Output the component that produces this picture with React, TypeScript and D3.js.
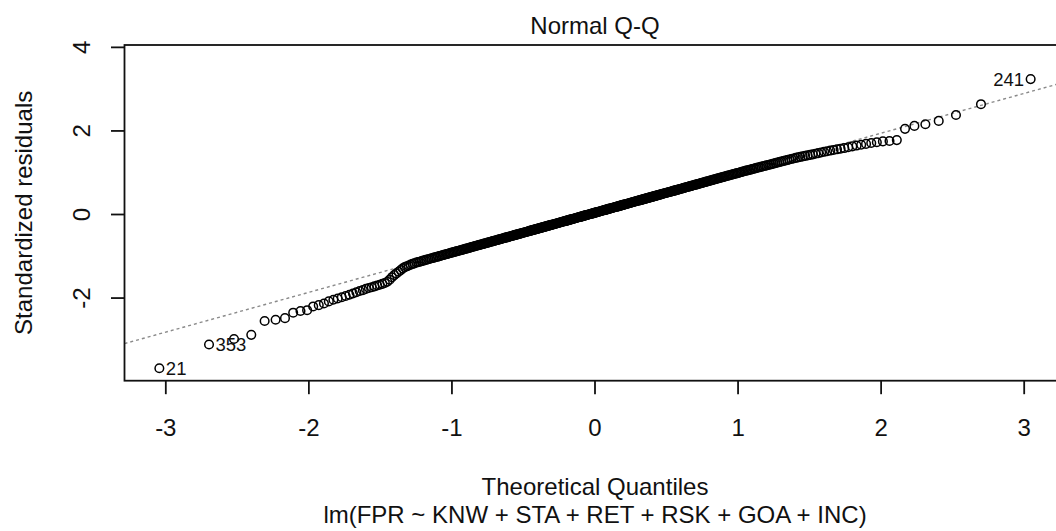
import React from "react";
import * as d3 from "d3";

// Sorted standardized residuals (ascending order)
const residuals: number[] = [
  -3.68, -3.11, -2.98, -2.88, -2.55, -2.52, -2.48, -2.35, -2.31, -2.29,
  -2.20, -2.17, -2.13, -2.08, -2.04, -2.01, -1.98, -1.95, -1.92, -1.89,
  -1.86, -1.83, -1.81, -1.78, -1.76, -1.74, -1.72, -1.70, -1.68, -1.66,
  -1.64, -1.61, -1.56, -1.50, -1.45, -1.41, -1.37, -1.33, -1.29, -1.26,
  -1.24, -1.22, -1.20, -1.18, -1.17, -1.15, -1.14, -1.13, -1.115, -1.104,
  -1.092, -1.081, -1.070, -1.059, -1.048, -1.037, -1.027, -1.017, -1.007, -0.997,
  -0.986, -0.976, -0.966, -0.957, -0.947, -0.938, -0.928, -0.919, -0.910, -0.901,
  -0.892, -0.883, -0.874, -0.866, -0.857, -0.848, -0.840, -0.831, -0.823, -0.815,
  -0.806, -0.798, -0.790, -0.781, -0.773, -0.765, -0.757, -0.749, -0.742, -0.734,
  -0.726, -0.719, -0.711, -0.703, -0.696, -0.688, -0.681, -0.673, -0.666, -0.659,
  -0.652, -0.644, -0.637, -0.630, -0.623, -0.616, -0.609, -0.602, -0.595, -0.588,
  -0.581, -0.574, -0.567, -0.560, -0.554, -0.547, -0.540, -0.534, -0.527, -0.520,
  -0.513, -0.507, -0.500, -0.494, -0.487, -0.481, -0.475, -0.468, -0.462, -0.456,
  -0.449, -0.443, -0.436, -0.430, -0.424, -0.418, -0.412, -0.406, -0.399, -0.393,
  -0.387, -0.380, -0.374, -0.368, -0.362, -0.356, -0.350, -0.344, -0.338, -0.332,
  -0.326, -0.320, -0.314, -0.308, -0.302, -0.296, -0.290, -0.284, -0.279, -0.273,
  -0.267, -0.261, -0.255, -0.249, -0.244, -0.238, -0.232, -0.226, -0.220, -0.215,
  -0.209, -0.203, -0.197, -0.191, -0.186, -0.180, -0.174, -0.168, -0.163, -0.157,
  -0.152, -0.146, -0.140, -0.134, -0.128, -0.123, -0.117, -0.112, -0.106, -0.100,
  -0.095, -0.089, -0.083, -0.078, -0.072, -0.067, -0.061, -0.056, -0.050, -0.044,
  -0.039, -0.033, -0.028, -0.022, -0.016, -0.011, -0.005, 0.000, 0.006, 0.011,
  0.017, 0.022, 0.028, 0.034, 0.039, 0.045, 0.050, 0.056, 0.061, 0.067,
  0.073, 0.078, 0.084, 0.089, 0.095, 0.100, 0.106, 0.112, 0.117, 0.123,
  0.128, 0.134, 0.140, 0.145, 0.151, 0.156, 0.162, 0.168, 0.173, 0.179,
  0.184, 0.190, 0.195, 0.201, 0.207, 0.212, 0.218, 0.224, 0.230, 0.236,
  0.241, 0.247, 0.252, 0.258, 0.264, 0.270, 0.276, 0.281, 0.287, 0.293,
  0.299, 0.305, 0.310, 0.316, 0.322, 0.328, 0.334, 0.339, 0.345, 0.351,
  0.357, 0.362, 0.368, 0.374, 0.380, 0.386, 0.392, 0.398, 0.404, 0.410,
  0.416, 0.422, 0.428, 0.434, 0.440, 0.446, 0.452, 0.458, 0.465, 0.471,
  0.477, 0.483, 0.490, 0.496, 0.502, 0.508, 0.514, 0.520, 0.527, 0.533,
  0.540, 0.546, 0.552, 0.559, 0.565, 0.571, 0.578, 0.584, 0.591, 0.597,
  0.604, 0.611, 0.618, 0.624, 0.631, 0.638, 0.645, 0.651, 0.658, 0.665,
  0.672, 0.679, 0.686, 0.693, 0.700, 0.707, 0.714, 0.721, 0.728, 0.735,
  0.743, 0.750, 0.757, 0.765, 0.772, 0.780, 0.787, 0.795, 0.803, 0.810,
  0.818, 0.826, 0.834, 0.842, 0.850, 0.858, 0.866, 0.874, 0.882, 0.890,
  0.899, 0.907, 0.915, 0.924, 0.932, 0.941, 0.950, 0.958, 0.967, 0.976,
  0.985, 0.99, 1.00, 1.01, 1.02, 1.03, 1.04, 1.05, 1.055, 1.065,
  1.075, 1.085, 1.095, 1.105, 1.115, 1.125, 1.135, 1.145, 1.155, 1.165,
  1.175, 1.185, 1.195, 1.207, 1.219, 1.231, 1.243, 1.255, 1.267, 1.279,
  1.291, 1.303, 1.316, 1.329, 1.342, 1.355, 1.367, 1.379, 1.391, 1.403,
  1.415, 1.427, 1.44, 1.455, 1.47, 1.485, 1.50, 1.515, 1.53, 1.545,
  1.56, 1.575, 1.59, 1.61, 1.63, 1.65, 1.67, 1.69, 1.71, 1.73,
  1.75, 1.76, 1.78, 2.05, 2.12, 2.16, 2.24, 2.38, 2.64, 3.24,
];

// Identified observations (rank in sorted order -> observation id)
const labelRanks: number[] = [1, 2, 430];
const labelIds: string[] = ["21", "353", "241"];

const xTicks: number[] = [-3, -2, -1, 0, 1, 2, 3];
const yTicks: number[] = [-2, 0, 2, 4];

const titleText = "Normal Q-Q";
const xLabel = "Theoretical Quantiles";
const yLabel = "Standardized residuals";
const subCaption = "lm(FPR ~ KNW + STA + RET + RSK + GOA + INC)";

// Inverse standard normal CDF (Acklam)
function qnorm(p: number): number {
  const a = [-3.969683028665376e1, 2.209460984245205e2, -2.759285104469687e2, 1.38357751867269e2, -3.066479806614716e1, 2.506628277459239];
  const b = [-5.447609879822406e1, 1.615858368580409e2, -1.556989798598866e2, 6.680131188771972e1, -1.328068155288572e1];
  const c = [-7.784894002430293e-3, -3.223964580411365e-1, -2.400758277161838, -2.549732539343734, 4.374664141464968, 2.938163982698783];
  const d = [7.784695709041462e-3, 3.224671290700398e-1, 2.445134137142996, 3.754408661907416];
  const plow = 0.02425;
  if (p < plow) {
    const q = Math.sqrt(-2 * Math.log(p));
    return (((((c[0] * q + c[1]) * q + c[2]) * q + c[3]) * q + c[4]) * q + c[5]) /
      ((((d[0] * q + d[1]) * q + d[2]) * q + d[3]) * q + 1);
  }
  if (p <= 1 - plow) {
    const q = p - 0.5;
    const r = q * q;
    return ((((((a[0] * r + a[1]) * r + a[2]) * r + a[3]) * r + a[4]) * r + a[5]) * q) /
      (((((b[0] * r + b[1]) * r + b[2]) * r + b[3]) * r + b[4]) * r + 1);
  }
  const q = Math.sqrt(-2 * Math.log(1 - p));
  return -(((((c[0] * q + c[1]) * q + c[2]) * q + c[3]) * q + c[4]) * q + c[5]) /
    ((((d[0] * q + d[1]) * q + d[2]) * q + d[3]) * q + 1);
}

const W = 1056;
const H = 531;
const FONT = "'Liberation Sans', Arial, Helvetica, sans-serif";
const FS = 24;

export default function App() {
  const n = residuals.length;
  const theo = residuals.map((_, i) => qnorm((i + 0.5) / n));

  const plotLeft = 124.5;
  const plotRight = 1065.5;
  const plotTop = 45;
  const plotBottom = 380.7;

  const [xmin, xmax] = d3.extent(theo) as [number, number];
  const xpad = (xmax - xmin) * 0.04;
  const x = d3.scaleLinear().domain([xmin - xpad, xmax + xpad]).range([plotLeft, plotRight]);

  const rmin = d3.min(residuals) as number;
  let rmax = d3.max(residuals) as number;
  rmax = rmax + (rmax - rmin) * 0.075;
  const ypad = (rmax - rmin) * 0.04;
  const y = d3.scaleLinear().domain([rmin - ypad, rmax + ypad]).range([plotBottom, plotTop]);

  // qqline through the quartiles
  const q1 = d3.quantile(residuals, 0.25) as number;
  const q3 = d3.quantile(residuals, 0.75) as number;
  const z1 = qnorm(0.25);
  const z3 = qnorm(0.75);
  const slope = (q3 - q1) / (z3 - z1);
  const intercept = q1 - slope * z1;
  const [dx0, dx1] = x.domain();

  const tickLen = 13.5;
  const axisColor = "#111";

  return (
    <svg
      width={W}
      height={H}
      style={{ position: "absolute", left: 0, top: 0, display: "block", background: "#fff" }}
      fontFamily={FONT}
    >
      <defs>
        <clipPath id="plotclip">
          <rect x={plotLeft} y={plotTop} width={plotRight - plotLeft} height={plotBottom - plotTop} />
        </clipPath>
      </defs>

      {/* reference line */}
      <line
        x1={x(dx0)}
        y1={y(intercept + slope * dx0)}
        x2={x(dx1)}
        y2={y(intercept + slope * dx1)}
        stroke="#8a8a8a"
        strokeWidth={1.4}
        strokeDasharray="3 3"
        clipPath="url(#plotclip)"
      />

      {/* points */}
      <g fill="none" stroke="#000" strokeWidth={1.5}>
        {residuals.map((r, i) => (
          <circle key={i} cx={x(theo[i])} cy={y(r)} r={4.3} />
        ))}
      </g>

      {/* point labels */}
      {labelRanks.map((rank, k) => {
        const i = rank - 1;
        const px = x(theo[i]);
        const py = y(residuals[i]);
        const right = theo[i] < 0;
        return (
          <text
            key={k}
            x={right ? px + 6.5 : px - 6.5}
            y={py + 6.8}
            textAnchor={right ? "start" : "end"}
            fontSize={18.5}
            fill="#111"
          >
            {labelIds[k]}
          </text>
        );
      })}

      {/* box */}
      <rect
        x={plotLeft}
        y={plotTop}
        width={plotRight - plotLeft}
        height={plotBottom - plotTop}
        fill="none"
        stroke={axisColor}
        strokeWidth={1.8}
      />

      {/* x axis */}
      {xTicks.map((t) => (
        <g key={"xt" + t}>
          <line x1={x(t)} x2={x(t)} y1={plotBottom} y2={plotBottom + tickLen} stroke={axisColor} strokeWidth={1.8} />
          <text x={x(t)} y={435.5} textAnchor="middle" fontSize={FS} fill="#111">
            {String(t)}
          </text>
        </g>
      ))}

      {/* y axis */}
      {yTicks.map((t) => (
        <g key={"yt" + t}>
          <line x1={plotLeft - tickLen} x2={plotLeft} y1={y(t)} y2={y(t)} stroke={axisColor} strokeWidth={1.8} />
          <text
            transform={`translate(89.5,${y(t)}) rotate(-90)`}
            textAnchor="middle"
            fontSize={FS}
            fill="#111"
          >
            {String(t)}
          </text>
        </g>
      ))}

      {/* titles */}
      <text x={(plotLeft + plotRight) / 2} y={34} textAnchor="middle" fontSize={FS} fill="#111">
        {titleText}
      </text>
      <text x={(plotLeft + plotRight) / 2} y={495} textAnchor="middle" fontSize={FS} fill="#111">
        {xLabel}
      </text>
      <text x={(plotLeft + plotRight) / 2} y={523} textAnchor="middle" fontSize={FS} fill="#111">
        {subCaption}
      </text>
      <text
        transform={`translate(32,${(plotTop + plotBottom) / 2}) rotate(-90)`}
        textAnchor="middle"
        fontSize={FS}
        fill="#111"
      >
        {yLabel}
      </text>
    </svg>
  );
}
